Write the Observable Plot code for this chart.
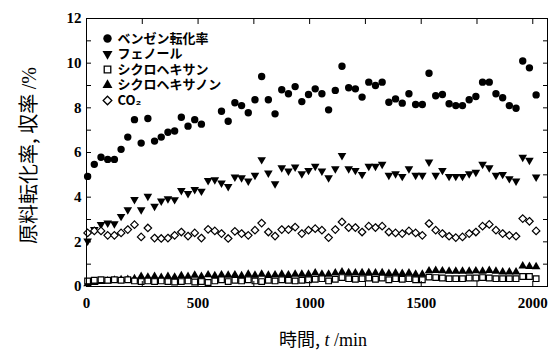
<!DOCTYPE html>
<html><head><meta charset="utf-8">
<script src="https://cdn.jsdelivr.net/npm/d3@7"></script>
<script src="https://cdn.jsdelivr.net/npm/@observablehq/plot@0.6"></script>
<style>body{margin:0;background:#fff} #chart{width:552px;height:352px}</style>
</head><body><div id="chart"></div>
<script>
const time = [5,35,65,95,125,155,185,215,245,275,305,335,365,395,425,455,485,515,545,575,605,635,665,695,725,755,785,815,845,875,905,935,965,995,1025,1055,1085,1115,1145,1175,1205,1235,1265,1295,1325,1355,1385,1415,1445,1475,1505,1535,1565,1595,1625,1655,1685,1715,1745,1775,1805,1835,1865,1895,1925,1955,1985,2015];
const benzene = [4.93,5.47,5.79,5.69,5.69,6.14,6.69,7.47,6.42,7.52,6.51,6.69,6.91,6.96,7.58,7.18,7.47,7.27,null,null,7.85,7.40,8.23,8.10,7.78,8.36,9.40,8.36,7.73,8.81,8.63,8.95,8.28,8.60,8.85,8.63,7.91,8.78,9.86,8.90,8.85,8.48,9.15,9.00,9.15,8.25,8.40,8.21,8.63,8.15,8.15,9.55,8.54,8.60,8.18,8.10,8.10,8.36,8.51,9.15,9.15,8.63,8.45,8.10,7.98,10.10,9.79,8.58];
const phenol = [2.04,2.55,2.78,2.84,2.81,3.14,3.44,3.90,3.44,4.04,3.59,3.83,3.93,3.89,4.30,4.16,4.34,4.27,4.75,4.78,4.63,4.48,4.90,4.87,4.72,4.98,5.68,5.08,4.60,5.32,5.17,5.35,5.05,5.20,5.38,5.17,4.87,5.27,5.87,5.27,5.20,5.02,5.38,5.38,5.47,4.98,5.05,4.93,5.27,4.98,4.98,5.57,4.98,5.20,4.93,4.93,4.93,5.05,5.12,5.47,5.32,4.98,5.02,4.83,4.72,5.79,5.65,4.90];
const cyclohexane = [0.25,0.28,0.30,0.28,0.30,0.28,0.30,0.25,0.22,0.25,0.22,0.25,0.22,0.20,0.22,0.25,0.20,0.22,0.18,0.25,0.30,0.22,0.28,0.25,0.30,0.25,0.22,0.28,0.25,0.30,0.28,0.25,0.28,0.30,0.32,0.35,0.25,0.32,0.40,0.35,0.32,0.35,0.38,0.32,0.38,0.30,0.35,0.32,0.35,0.30,0.30,0.42,0.40,0.38,0.35,0.35,0.35,0.38,0.38,0.40,0.38,0.35,0.35,0.35,0.35,0.45,0.45,0.35];
const cyclohexanone = [0.12,0.18,0.22,0.25,0.28,0.30,0.32,0.35,0.45,0.42,0.45,0.40,0.45,0.42,0.48,0.45,0.50,0.45,0.52,0.48,0.52,0.50,0.52,0.48,0.55,0.50,0.55,0.50,0.52,0.55,0.52,0.55,0.55,0.55,0.60,0.55,0.55,0.60,0.65,0.62,0.60,0.62,0.62,0.60,0.62,0.58,0.60,0.58,0.60,0.55,0.55,0.70,0.72,0.70,0.68,0.68,0.68,0.68,0.70,0.68,0.72,0.68,0.65,0.65,0.65,0.92,0.90,0.88];
const co2 = [2.40,2.49,2.49,2.29,2.29,2.40,2.55,2.77,2.22,2.62,2.17,2.15,2.17,2.29,2.44,2.26,2.40,2.17,2.56,2.49,2.37,2.15,2.47,2.37,2.29,2.52,2.84,2.44,2.26,2.55,2.55,2.66,2.37,2.52,2.59,2.52,2.19,2.55,2.89,2.64,2.64,2.44,2.70,2.64,2.70,2.44,2.40,2.37,2.49,2.40,2.29,2.82,2.52,2.37,2.25,2.19,2.22,2.37,2.44,2.70,2.78,2.52,2.37,2.29,2.25,3.04,2.92,2.49];
const xMajor = [0,500,1000,1500,2000];
const xMinor = [0,250,500,750,1000,1250,1500,1750,2000];
const yMajor = [0,2,4,6,8,10,12];
const yMinor = [0,1,2,3,4,5,6,7,8,9,10,11,12];
const legendLabels = ["ベンゼン転化率","フェノール","シクロヘキサン","シクロヘキサノン","CO₂"];
const xLabel = "時間, t /min";
const yLabel = "原料転化率, 収率 /%";

const rows = vals => time.map((t, i) => ({t, v: vals[i]}));

const styles = [
  {symbol: "circle", fill: "black", stroke: "none", r: 3.7, rotate: 0},
  {symbol: "triangle", fill: "black", stroke: "none", r: 3.2, rotate: 180},
  {symbol: "square", fill: "white", stroke: "black", r: 3.2, rotate: 0},
  {symbol: "triangle", fill: "black", stroke: "none", r: 3.2, rotate: 0},
  {symbol: "diamond2", fill: "white", stroke: "black", r: 3.4, rotate: 0}
];
const series = [benzene, phenol, cyclohexane, cyclohexanone, co2];
const drawOrder = [0, 1, 3, 2, 4];

const cjk = "'Noto Sans CJK JP', sans-serif";
const marks = [];
for (const k of drawOrder) {
  const s = styles[k];
  marks.push(Plot.dot(rows(series[k]), {x: "t", y: "v", symbol: () => s.symbol, r: s.r, fill: s.fill, stroke: s.stroke, strokeWidth: 1.2, rotate: s.rotate}));
}
legendLabels.forEach((lab, i) => {
  const s = styles[i];
  const dy = 20 + 15.5 * i;
  marks.push(Plot.dot([lab], {frameAnchor: "top-left", dx: 21, dy, symbol: () => s.symbol, r: s.r + 0.5, fill: s.fill, stroke: s.stroke, strokeWidth: 1.3, rotate: s.rotate}));
  marks.push(Plot.text([lab], {text: d => d, frameAnchor: "top-left", dx: 31, dy, textAnchor: "start", lineAnchor: "middle", fontFamily: cjk, fontWeight: "bold", fontSize: 13}));
});

marks.push(
  Plot.frame({stroke: "black", strokeWidth: 1}),
  Plot.axisX({anchor: "bottom", ticks: xMinor, tickSize: -5, tickFormat: () => "", label: null}),
  Plot.axisX({anchor: "bottom", ticks: xMajor, tickSize: 0, tickPadding: 11, tickFormat: d => String(d), label: null}),
  Plot.axisX({anchor: "top", ticks: xMinor, tickSize: -5, tickFormat: () => "", label: null}),
  Plot.axisY({anchor: "left", ticks: yMinor, tickSize: -5, tickFormat: () => "", label: null}),
  Plot.axisY({anchor: "left", ticks: yMajor, tickSize: 0, tickPadding: 5, tickFormat: d => String(d), label: null}),
  Plot.axisY({anchor: "right", ticks: yMinor, tickSize: -5, tickFormat: () => "", label: null}),
  Plot.text([xLabel], {text: d => d, frameAnchor: "bottom", textAnchor: "middle", lineAnchor: "middle", dx: 6, dy: 54, fontSize: 18, fontWeight: "normal"}),
  Plot.text([yLabel], {text: d => d, frameAnchor: "left", textAnchor: "middle", lineAnchor: "middle", dx: -57, dy: 3, rotate: -90, fontSize: 20, fontWeight: "normal"})
);

const chart = Plot.plot({
  width: 552, height: 352,
  marginLeft: 86, marginRight: 5, marginTop: 18, marginBottom: 66,
  x: {domain: [0, 2066]},
  y: {domain: [0, 12]},
  style: {fontFamily: "'Liberation Serif', serif", fontSize: "15px", fontWeight: "bold", color: "black", background: "white"},
  marks
});
document.getElementById("chart").appendChild(chart);

const ns = "http://www.w3.org/2000/svg";
function spans(content, parts) {
  const t = Array.from(chart.querySelectorAll("text")).find(e => e.textContent === content);
  if (!t) return;
  t.textContent = "";
  t.setAttribute("font-weight", "normal");
  for (const [s, st] of parts) {
    const ts = document.createElementNS(ns, "tspan");
    ts.textContent = s;
    ts.setAttribute("style", st);
    t.appendChild(ts);
  }
}
spans(xLabel, [["時間,", `font-family:${cjk};font-weight:normal`], [" ", "font-family:'Liberation Serif';font-weight:normal"], ["t", "font-family:'Liberation Serif';font-style:italic;font-weight:normal"], [" /min", "font-family:'Liberation Serif';font-weight:normal"]]);
spans(yLabel, [["原料転化率, 収率 ", `font-family:${cjk};font-weight:normal`], ["/%", "font-family:'Liberation Serif';font-weight:normal"]]);
</script>
</body></html>
